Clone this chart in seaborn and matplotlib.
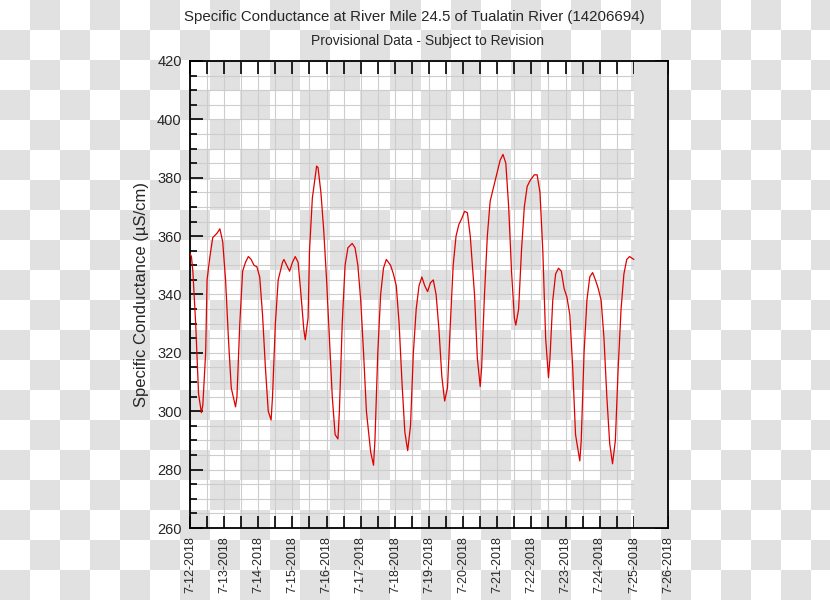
import numpy as np
import pandas as pd
import matplotlib
matplotlib.use("Agg")
import matplotlib.pyplot as plt
import matplotlib.dates as mdates
import matplotlib.ticker as mticker
import seaborn as sns

# hours after 7-12-2018 00:00 and specific conductance (uS/cm)
hours = [0, 1, 2, 4, 6, 8, 9, 11, 12, 14, 16, 19, 21, 23, 25, 27, 29, 32, 33, 35,
         37, 39, 41, 43, 45, 47, 49, 51, 53, 55, 57, 58, 60, 62, 65, 66, 68, 70, 72, 74,
         76, 78, 80, 81, 83, 84, 86, 89, 90, 92, 94, 96, 98, 100, 102, 104, 105, 107, 109, 111,
         114, 116, 118, 120, 122, 124, 127, 129, 130, 132, 134, 136, 138, 141, 143, 145, 147, 149, 151, 153,
         155, 157, 159, 161, 163, 165, 167, 169, 171, 173, 175, 177, 179, 181, 183, 185, 187, 189, 191, 193,
         195, 197, 200, 202, 204, 205, 207, 209, 211, 214, 216, 218, 220, 222, 224, 226, 228, 229, 231, 233,
         235, 237, 239, 242, 244, 246, 248, 250, 252, 253, 255, 257, 259, 261, 263, 265, 267, 269, 271, 274,
         275, 277, 279, 281, 283, 285, 287, 289, 291, 293, 295, 297, 299, 301, 303, 305, 307, 309, 312]
conductance = [354, 353, 348, 330, 306, 299.5, 302, 320, 345, 353, 359.5, 361, 362.5, 358, 345, 325, 308, 301.5, 305, 330,
               348, 351, 353, 352, 350, 349.5, 346, 333, 315, 300, 297, 305, 330, 345, 351, 352, 350, 348, 351, 353,
               351, 340, 328, 324.5, 332, 355, 373, 384, 383.5, 375, 362, 345, 325, 305, 292, 290.5, 300, 330, 350, 356,
               357.5, 356, 350, 338, 320, 300, 286, 281.5, 290, 320, 340, 349, 352, 350, 347, 343, 330, 310, 293, 286.5,
               295, 320, 335, 343, 346, 343, 341, 344, 345, 340, 328, 312, 303.5, 308, 330, 350, 360, 364, 366, 368.5,
               368, 360, 340, 318, 308.5, 315, 340, 360, 372, 378, 382, 386, 388, 385, 370, 348, 332, 329.5, 335, 355,
               370, 377, 379, 381, 381, 375, 355, 325, 311.5, 318, 338, 347, 349, 348, 342, 339, 333, 315, 292, 283,
               290, 320, 338, 346, 347.5, 345, 342, 338, 325, 305, 289, 282, 290, 315, 335, 347, 352, 353, 352]

start = pd.Timestamp("2018-07-12")
end = pd.Timestamp("2018-07-26")
no_data_from = pd.Timestamp("2018-07-25")

df = pd.DataFrame({"time": start + pd.to_timedelta(hours, unit="h"),
                   "value": conductance})

sns.set_style("ticks")
plt.rcParams["font.family"] = ["Liberation Sans", "DejaVu Sans"]

fig = plt.figure(figsize=(8.3, 6.0), dpi=100)

# transparency-style checkerboard behind everything (white cell at top-left)
h_px, w_px, cell = 600, 830, 30
yy, xx = np.mgrid[0:h_px, 0:w_px]
odd = ((xx // cell + yy // cell) % 2).astype(bool)
board = np.ones((h_px, w_px, 3))
board[odd] = 225 / 255
bg = fig.add_axes([0, 0, 1, 1], zorder=-10)
bg.imshow(board, origin="upper", aspect="auto", interpolation="nearest")
bg.set_axis_off()

ax = fig.add_axes([190 / 830, 1 - 528 / 600, 478 / 830, 467 / 600])
ax.set_facecolor("none")

sns.lineplot(data=df, x="time", y="value", ax=ax, color="#e00000", lw=0.9, zorder=3)

ax.axvspan(no_data_from, end, color="#e1e1e1", lw=0, zorder=2)

ax.set_xlim(start, end)
ax.set_ylim(260, 420)

ax.xaxis.set_major_locator(mdates.DayLocator())
ax.xaxis.set_minor_locator(mdates.HourLocator(byhour=[12]))
ax.xaxis.set_major_formatter(
    mticker.FuncFormatter(lambda v, p: (lambda d: f"{d.month}-{d.day}-{d.year}")(mdates.num2date(v))))
ax.yaxis.set_major_locator(mticker.MultipleLocator(20))
ax.yaxis.set_minor_locator(mticker.MultipleLocator(5))

ax.grid(True, which="both", color="#cdcdcd", lw=0.8, zorder=1)
ax.set_axisbelow(True)

ax.tick_params(axis="both", which="both", direction="in", top=True, right=True, color="black")
ax.tick_params(axis="y", which="major", length=9.5, width=1.2, labelsize=10.5, pad=6)
ax.tick_params(axis="y", which="minor", length=5, width=1.2)
ax.tick_params(axis="x", which="both", length=9, width=1.2, labelsize=9, pad=6)
plt.setp(ax.get_xticklabels(), rotation=90)

for s in ax.spines.values():
    s.set_linewidth(1.3)
    s.set_color("black")

ax.set_xlabel("")
ax.set_ylabel("Specific Conductance (\u00b5S/cm)", fontsize=12)
ax.yaxis.set_label_coords(-0.085, 0.5)

fig.text(414 / 830, 1 - 17 / 600, "Specific Conductance at River Mile 24.5 of Tualatin River (14206694)",
         ha="center", va="center", fontsize=10.8)
fig.text(427 / 830, 1 - 41 / 600, "Provisional Data - Subject to Revision",
         ha="center", va="center", fontsize=10)

fig.savefig("out.png", dpi=100)
